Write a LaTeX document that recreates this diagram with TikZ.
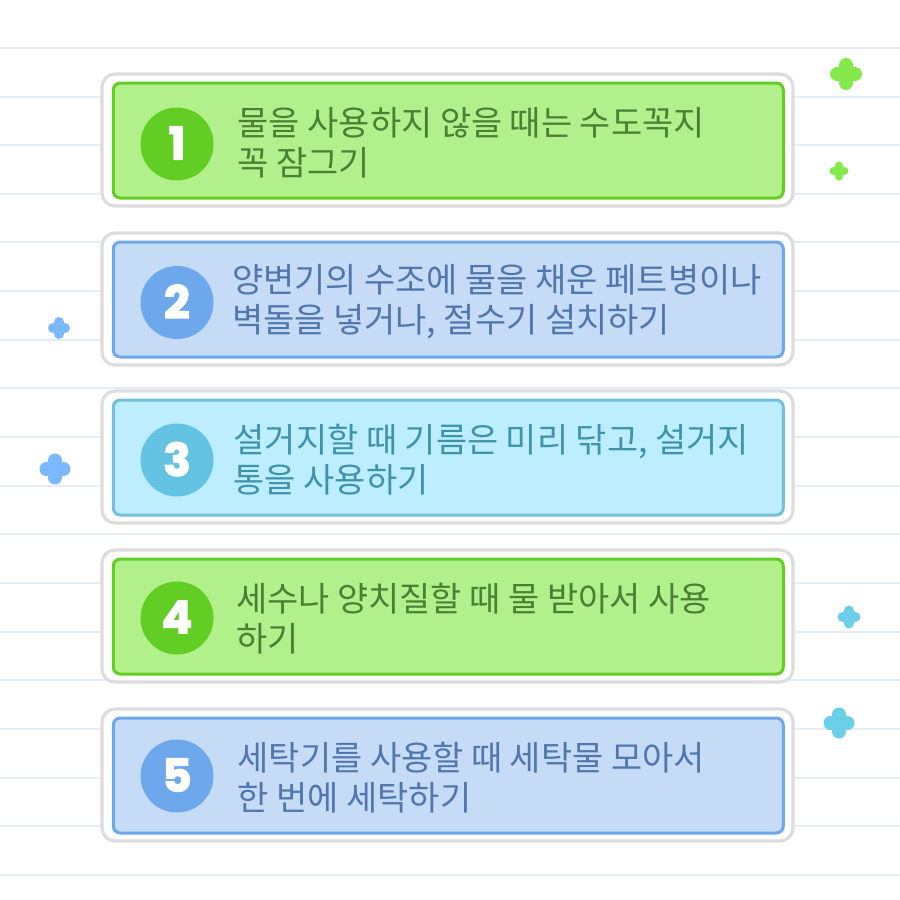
\documentclass[tikz,border=0pt]{standalone}
\usepackage{fontspec}
\newfontfamily\krfont{Noto Sans CJK KR}
\newfontfamily\numfont[UprightFont=* Bold,FakeBold=3.2]{Poppins}
\definecolor{ruleline}{HTML}{E4ECF4}
\definecolor{outerline}{HTML}{DDDDDD}
\definecolor{gfill}{HTML}{B2F08C}\definecolor{gdark}{HTML}{62CE23}\definecolor{gtext}{HTML}{4B7F33}
\definecolor{bfill}{HTML}{C5DBF6}\definecolor{bdark}{HTML}{6CA8EB}\definecolor{btext}{HTML}{4F77AE}
\definecolor{cfill}{HTML}{BDEEFF}\definecolor{cline}{HTML}{74C0DC}\definecolor{cdark}{HTML}{64C2E3}\definecolor{ctext}{HTML}{3E93AB}
\definecolor{plusg}{HTML}{84EA4B}\definecolor{plusb}{HTML}{7AB8FF}\definecolor{plusc}{HTML}{6CCFEA}
\tikzset{
  outerbox/.style={draw=outerline,line width=3.2pt,fill=white,rounded corners=13pt},
  innerbox/.style={line width=3pt,rounded corners=7pt},
  numdisc/.style={circle,minimum size=73pt,inner sep=0pt,text=white,font=\numfont\fontsize{45}{45}\selectfont},
  msg/.style={anchor=west,align=left,inner sep=0pt,font=\krfont\fontsize{33.9}{40}\selectfont},
}
\newcommand{\plusmark}[4]{% x y radius colour
  \draw[#4,line width=0.88*#3,line cap=round] (#1-0.56*#3,#2) -- (#1+0.56*#3,#2);
  \draw[#4,line width=0.88*#3,line cap=round] (#1,#2-0.56*#3) -- (#1,#2+0.56*#3);
  \fill[#4] (#1,#2) circle[radius=0.6*#3];
}
\newcommand{\stepcard}[7]{% name top fill stroke text textx message
  \draw[outerbox] (102,#2) rectangle (793,#2+132);
  \node[draw=#4,fill=#3,innerbox,minimum width=670pt,minimum height=115pt,inner sep=0pt] (#1) at (448.3,#2+66.5) {};
  \node[msg,text=#5] (#1txt) at (#6,#2+69) {#7};
}
\begin{document}
\begin{tikzpicture}[x=1pt,y=-1pt]
\useasboundingbox (0,0) rectangle (900,900);
\fill[white] (0,0) rectangle (900,900);
\foreach \y in {48,97,145,194,242,291,340,388,437,486,534,583,632,680,729,778,826,875}
  \draw[ruleline,line width=1.5pt] (0,\y) -- (900,\y);
\stepcard{a}{74}{gfill}{gdark}{gtext}{237.5}{물을 사용하지 않을 때는 수도꼭지\\꼭 잠그기}
\stepcard{b}{233}{bfill}{bdark}{btext}{232}{양변기의 수조에 물을 채운 페트병이나\\벽돌을 넣거나, 절수기 설치하기}
\stepcard{c}{391}{cfill}{cline}{ctext}{233.5}{설거지할 때 기름은 미리 닦고, 설거지\\통을 사용하기}
\stepcard{d}{550}{gfill}{gdark}{gtext}{236}{세수나 양치질할 때 물 받아서 사용\\하기}
\stepcard{e}{709}{bfill}{bdark}{btext}{237.5}{세탁기를 사용할 때 세탁물 모아서\\한 번에 세탁하기}
\node[numdisc,fill=gdark] (anum) at (177,144) {\raisebox{2pt}{1}};
\node[numdisc,fill=bdark] (bnum) at (177,302.5) {\raisebox{2pt}{2}};
\node[numdisc,fill=cdark] (cnum) at (177,460) {\raisebox{2pt}{3}};
\node[numdisc,fill=gdark] (dnum) at (177,618) {\raisebox{2pt}{4}};
\node[numdisc,fill=bdark] (enum) at (177,776) {\raisebox{2pt}{5}};
\plusmark{846}{74}{16}{plusg}
\plusmark{839}{171}{9.5}{plusg}
\plusmark{59}{328}{11}{plusb}
\plusmark{55}{469}{15.5}{plusb}
\plusmark{849}{617}{11.5}{plusc}
\plusmark{839}{723}{15.5}{plusc}
\end{tikzpicture}
\end{document}
